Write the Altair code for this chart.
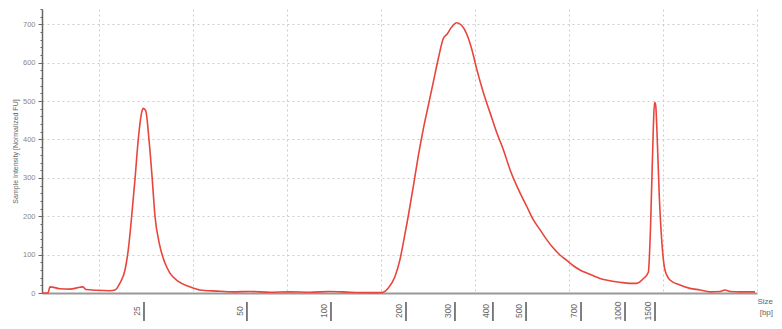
import altair as alt
import pandas as pd

# Migration position (arbitrary run units) and normalized intensity (FU)
migration = [3.94, 4.57, 4.79, 5.32, 5.85, 6.91, 7.98, 8.30, 8.62, 9.76,
             11.17, 11.70, 12.23, 12.77, 13.12, 13.48, 13.83, 14.18, 14.54, 14.71,
             14.97, 15.32, 15.67, 15.96, 16.41, 17.02, 17.55, 18.44, 19.68, 20.74,
             22.52, 24.26, 26.06, 28.19, 30.32, 32.45, 34.57, 36.70, 38.83, 40.07,
             40.78, 41.49, 42.02, 42.37, 42.90, 43.44, 43.97, 44.50, 45.03, 45.56,
             46.10, 46.63, 47.05, 47.52, 48.05, 48.59, 49.12, 49.65, 50.18, 50.88,
             51.60, 52.31, 53.01, 53.72, 54.79, 55.50, 56.20, 56.91, 57.63, 58.33,
             59.04, 59.76, 60.46, 61.17, 61.88, 62.59, 63.30, 64.36, 65.43, 66.49,
             67.20, 67.90, 68.44, 68.69, 68.97, 69.10, 69.22, 69.36, 69.61, 69.86,
             70.21, 70.74, 71.81, 72.87, 73.94, 75.00, 76.06, 76.60, 77.13, 78.19,
             79.79]
intensity = [0, 0, 16, 14, 11, 10, 15, 16, 9, 7,
             6, 8, 26, 60, 113, 200, 296, 400, 470, 481,
             475, 400, 296, 200, 130, 78, 52, 30, 16, 8,
             5, 3, 4, 2, 3, 2, 4, 2, 1, 1,
             13, 43, 87, 130, 200, 278, 357, 427, 488, 549,
             611, 663, 675, 693, 704, 697, 675, 636, 584, 523,
             470, 418, 374, 322, 261, 226, 191, 165, 139, 117,
             99, 85, 71, 60, 52, 45, 38, 32, 28, 25,
             25, 37, 54, 183, 430, 497, 490, 420, 250, 139,
             60, 34, 21, 12, 8, 3, 4, 8, 4, 3,
             3]

# Size ladder: migration position of each size marker
ladder_pos = [14.79, 25.74, 34.68, 42.66, 47.87, 51.91, 55.43, 61.28, 65.96, 69.15]
ladder_size = ["25", "50", "100", "200", "300", "400", "500", "700", "1000", "1500"]

grid_x = [10, 20, 30, 40, 50, 60, 70, 80]
y_ticks = list(range(0, 741, 20))
size_axis_title = ["Size", "[bp]"]

df = pd.DataFrame({"t": migration, "fu": intensity})
lad = pd.DataFrame({"t": ladder_pos, "size": ladder_size})
one = pd.DataFrame({"k": [0]})

FONT = "Liberation Sans"
x_scale = alt.Scale(domain=[3.94, 80], nice=False, zero=False)
y_scale = alt.Scale(domain=[0, 740], nice=False)
major = "datum.value % 100 === 0"

line = alt.Chart(df).mark_line(color="#e8453c", strokeWidth=1.6, interpolate="monotone").encode(
    x=alt.X("t:Q", scale=x_scale, axis=alt.Axis(
        values=grid_x, labels=False, ticks=False, grid=True, gridDash=[2, 3],
        gridColor="#cccccc", domainColor="#999999", domainWidth=2, title=None)),
    y=alt.Y("fu:Q", scale=y_scale, axis=alt.Axis(
        values=y_ticks,
        labelExpr=f"{major} ? datum.label : ''",
        tickSize={"condition": {"test": major, "value": 4}, "value": 2},
        gridOpacity={"condition": {"test": major, "value": 1}, "value": 0},
        grid=True, gridDash=[2, 3], gridColor="#cccccc",
        domainColor="#666666", domainWidth=1.5, tickColor="#666666",
        labelColor="#888888", labelFontSize=7.5, labelFont=FONT, labelPadding=3,
        title="Sample Intensity [Normalized FU]", titleFontSize=7, titleFont=FONT,
        titleFontWeight="normal", titleColor="#666666",
        titleX=-27, titleY=142, titleAngle=270, titleAlign="center", titleBaseline="middle")),
)

ladder_rules = alt.Chart(lad).mark_rule(color="#555555", strokeWidth=1.5).encode(
    x=alt.X("t:Q", scale=x_scale),
    y=alt.value(293),
    y2=alt.value(315),
)

ladder_text = alt.Chart(lad).mark_text(
    angle=270, align="center", baseline="bottom", dy=-2, fontSize=8.5, font=FONT, color="#666666"
).encode(
    x=alt.X("t:Q", scale=x_scale),
    y=alt.value(302),
    text="size:N",
)

size_title = alt.Chart(one).mark_text(
    text=size_axis_title, align="right", baseline="top", fontSize=8, font=FONT,
    color="#666666", lineHeight=11
).encode(
    x=alt.value(731),
    y=alt.value(289),
)

chart = alt.layer(line, ladder_rules, ladder_text, size_title).properties(
    width=715, height=284,
    padding={"left": 34, "top": 1, "right": 17, "bottom": 28},
    autosize=alt.AutoSizeParams(type="none"),
    background="white",
).configure_view(stroke=None)

chart.save("out.html", embed_options={"renderer": "svg", "actions": False})
